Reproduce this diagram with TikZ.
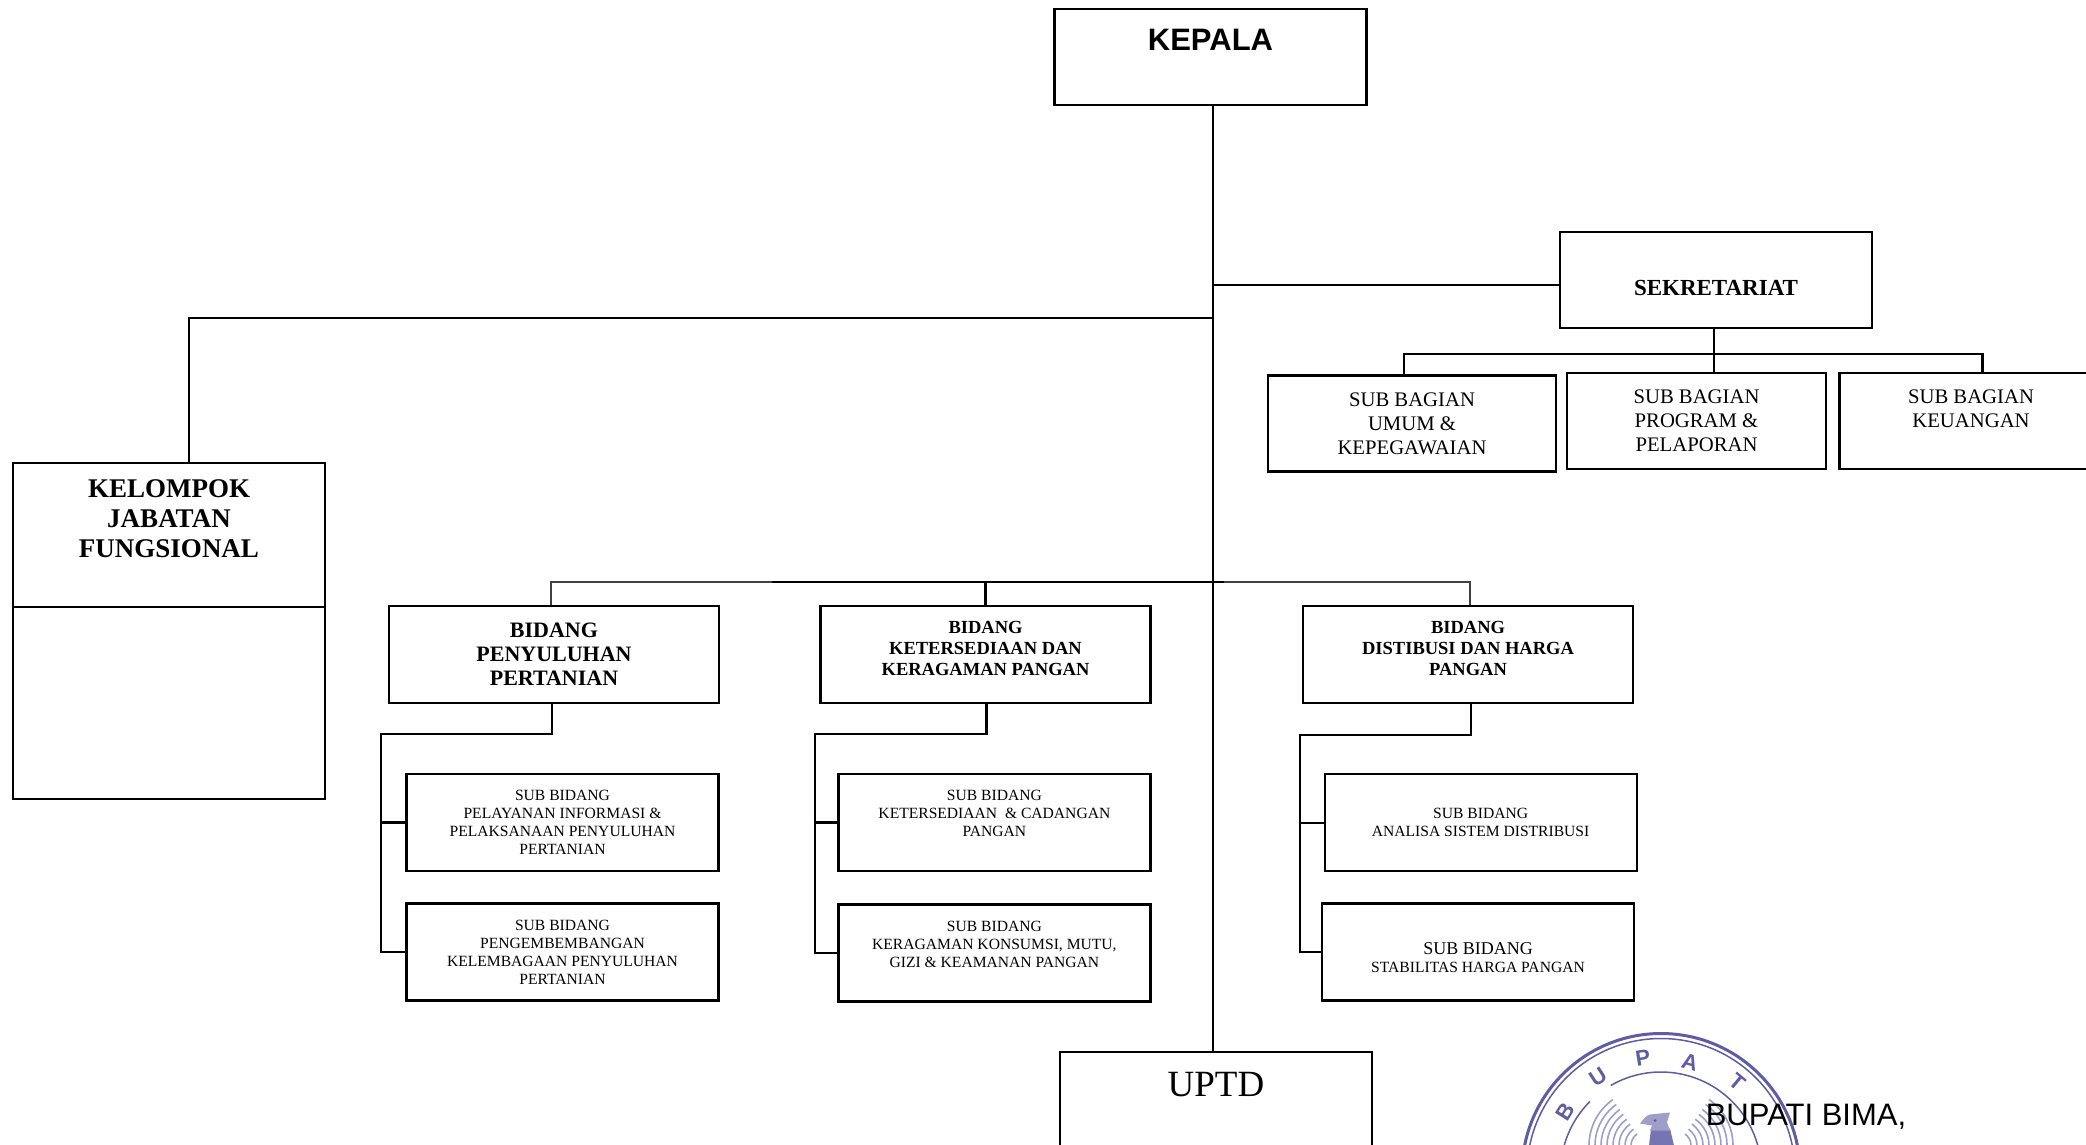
\documentclass[tikz,border=0pt]{standalone}
\usepackage{fontspec}
\usepackage{tikz}
\usetikzlibrary{positioning}
\setmainfont{Liberation Serif}
\newfontfamily\headfont{Liberation Sans}
\definecolor{segel}{HTML}{5F5CA3}
\definecolor{segelmuda}{HTML}{9F9DC9}

\begin{document}
\begin{tikzpicture}[
x=1pt, y=-1pt,
box/.style={draw=black, line width=2.2pt, align=center, inner sep=0pt, fill=white},
head/.style={box, minimum width=312pt, minimum height=96pt},
bidang/.style={box, minimum width=330pt, minimum height=97pt, font=\bfseries\fontsize{18.5}{21}\selectfont},
subbidang/.style={box, minimum width=312pt, minimum height=97pt, font=\fontsize{15.6}{18}\selectfont},
subbagian/.style={box, minimum height=96pt, font=\fontsize{20.7}{24}\selectfont},
hurufsegel/.style={text=segel, font=\headfont\bfseries\fontsize{22}{22}\selectfont},
line/.style={line width=2.2pt, line cap=round},
thinline/.style={line width=1.7pt, draw=black!75}
]
\useasboundingbox (0,0) rectangle (2086,1145);
\clip (0,0) rectangle (2086,1145);
%Seal
\begin{scope}[shift={(1661,1172.5)}, yscale=-1, draw=segel]
\draw[line width=3pt] (0,0) circle (139);
\draw[line width=1.5pt] (0,0) circle (134);
\draw[line width=1.5pt] (135:100.5) arc (135:360+120:100.5);
\foreach \r in {14,20,...,56} {
  \draw[segelmuda, line width=1.6pt] (-16-\r,27) arc (180:125:\r);
  \draw[segelmuda, line width=1.6pt] (16+\r,27) arc (0:55:\r);
}
\fill[segel!85] (-12,27) -- (13,27) -- (9,44) -- (-10,44) -- cycle;
\fill[segelmuda] (-21,49) .. controls (-17,54) and (-15,57) .. (-11,58) -- (9,60) -- (6,50) -- (9,42) -- (-11,42) -- (-9,47) -- cycle;
\fill[segel] (-6,52) circle (1.5);
\end{scope}
\node[hurufsegel, rotate=58] (b1) at (1565,1112) {B};
\node[hurufsegel, rotate=33] (b2) at (1598,1077) {U};
\node[hurufsegel, rotate=9] (b3) at (1643,1058) {P};
\node[hurufsegel, rotate=-15] (b4) at (1690,1062) {A};
\node[hurufsegel, rotate=-40] (b5) at (1737,1082) {T};
%Nodes
\node[head, font=\headfont\bfseries\fontsize{31}{36}\selectfont] (kepala) at (1210.5,57) {KEPALA\\[-2pt]~};
\node[head, font=\bfseries\fontsize{23}{26}\selectfont] (sek) at (1716,280) {~\\[5pt]SEKRETARIAT};
\node[subbagian, minimum width=288.5pt] (umum) at (1412,423.5) {SUB BAGIAN\\UMUM \&\\KEPEGAWAIAN};
\node[subbagian, minimum width=259pt] (program) at (1696.5,421) {SUB BAGIAN\\PROGRAM \&\\PELAPORAN};
\node[subbagian, minimum width=263pt] (keuangan) at (1971,421) {SUB BAGIAN\\KEUANGAN\\~};
\node[box, minimum width=312pt, minimum height=144pt, font=\bfseries\fontsize{27}{30}\selectfont] (kelompok) at (169,535) {KELOMPOK\\JABATAN\\FUNGSIONAL\\[3pt]~};
\node[box, minimum width=312pt, minimum height=192pt] (kelompokb) [below=-2.2pt of kelompok] {};
\node[bidang, font=\bfseries\fontsize{22}{24.3}\selectfont] (bd1) at (554,654.3) {BIDANG\\PENYULUHAN\\PERTANIAN};
\node[bidang] (bd2) at (985.5,654.3) {BIDANG\\KETERSEDIAAN DAN\\KERAGAMAN PANGAN\\[-9pt]~};
\node[bidang] (bd3) at (1468,654.3) {BIDANG\\DISTIBUSI DAN HARGA\\PANGAN\\[-9pt]~};
\node[subbidang] (sbd1a) at (562.5,822.4) {SUB BIDANG\\PELAYANAN INFORMASI \&\\PELAKSANAAN PENYULUHAN\\PERTANIAN};
\node[subbidang] (sbd1b) at (562.5,952) {SUB BIDANG\\PENGEMBEMBANGAN\\KELEMBAGAAN PENYULUHAN\\PERTANIAN};
\node[subbidang] (sbd2a) at (994.4,822.4) {SUB BIDANG\\KETERSEDIAAN \ \&~CADANGAN\\PANGAN\\~};
\node[subbidang] (sbd2b) at (994.4,953) {SUB BIDANG\\KERAGAMAN KONSUMSI, MUTU,\\GIZI \& KEAMANAN PANGAN\\~};
\node[subbidang] (sbd3a) at (1480.6,822.6) {SUB BIDANG\\ANALISA SISTEM DISTRIBUSI};
\node[subbidang] (sbd3b) at (1478,952) {~\\[5pt]{\fontsize{18}{19}\selectfont SUB BIDANG}\\STABILITAS HARGA PANGAN};
\node[head, minimum height=100pt, font=\fontsize{37}{42}\selectfont] (uptd) at (1216,1102) {UPTD\\[-7pt]~};
\node[anchor=base west, inner sep=0pt, font=\headfont\fontsize{31}{36}\selectfont] (bupati) at (1705.6,1125.7) {BUPATI BIMA,};
%Lines
\coordinate (cabang1) at (1213,285);
\coordinate (cabang2) at (1213,318);
\coordinate (cabang3) at (1213,582);
\coordinate (bussek) at (1714,354);
\coordinate (busa) at (773,582);
\coordinate (busb) at (1224,582);
\coordinate (t1) at (381,734.3);
\coordinate (t2) at (815,734.3);
\coordinate (t3) at (1299.6,734.6);
\draw[line] ([xshift=2.5pt]kepala.south) -- ([xshift=-3pt]uptd.north);
\draw[line] (cabang1) -- ([yshift=-5pt]sek.west);
\draw[line] (cabang2) -| ([xshift=19.7pt]kelompok.north);
\draw[line] ([xshift=-2pt]sek.south) -- ([xshift=17.5pt]program.north);
\draw[line] ([xshift=-8pt]umum.north) |- (bussek) -| ([xshift=11.5pt]keuangan.north);
%Bidang
\draw[thinline] ([xshift=-3pt]bd1.north) |- (busa);
\draw[line] (busa) -- (busb);
\draw[thinline] (busb) -| ([xshift=2pt]bd3.north);
\draw[line] (bd2.north) -- (bd2.north |- busa);
%Sub bidang
\draw[line] ([xshift=-2pt]bd1.south) |- (t1) |- (sbd1b.west);
\draw[line] (sbd1a.west) -- (sbd1a.west -| t1);
\draw[line] ([xshift=1pt]bd2.south) |- (t2) |- (sbd2b.west);
\draw[line] (sbd2a.west) -- (sbd2a.west -| t2);
\draw[line] ([xshift=2.6pt]bd3.south) |- (t3) |- (sbd3b.west);
\draw[line] (sbd3a.west) -- (sbd3a.west -| t3);
\end{tikzpicture}
\end{document}
